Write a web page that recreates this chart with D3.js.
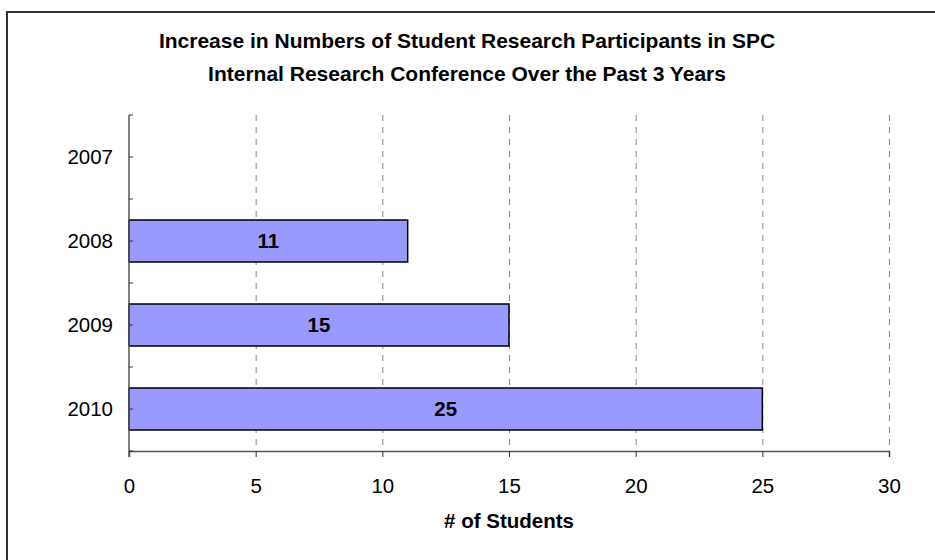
<!DOCTYPE html>
<html>
<head>
<meta charset="utf-8">
<script src="https://cdn.jsdelivr.net/npm/d3@7"></script>
<style>
  body { margin: 0; background: #fff; }
  text { font-family: "Liberation Sans", Arial, sans-serif; fill: #000; }
</style>
</head>
<body>
<svg width="935" height="560"></svg>
<script>
var years = ["2007", "2008", "2009", "2010"];
var students = [null, 11, 15, 25];
var xTicks = [0, 5, 10, 15, 20, 25, 30];
var titleLines = ["Increase in Numbers of Student Research Participants in SPC",
                  "Internal Research Conference Over the Past 3 Years"];

var svg = d3.select("svg");

// outer frame, cut off at right and bottom like the original
svg.append("rect")
    .attr("x", 7).attr("y", 12)
    .attr("width", 960).attr("height", 600)
    .attr("fill", "none")
    .attr("stroke", "#333")
    .attr("stroke-width", 2);

var x = d3.scaleLinear().domain([0, 30]).range([129, 889]);
var y = d3.scaleBand().domain(years).range([115, 451])
    .paddingInner(0.5).paddingOuter(0.25);

// dashed grid
svg.selectAll(".grid")
    .data(xTicks.slice(1))
    .enter().append("line")
    .attr("class", "grid")
    .attr("x1", function (d) {return x(d) + 0.5;})
    .attr("x2", function (d) {return x(d) + 0.5;})
    .attr("y1", 115).attr("y2", 451)
    .attr("stroke", "#888")
    .attr("stroke-dasharray", "6,6");

var data = years.map(function (d, i) {return {year: d, v: students[i]};})
    .filter(function (d) {return d.v != null;});

svg.selectAll(".bar")
    .data(data)
    .enter().append("rect")
    .attr("class", "bar")
    .attr("x", x(0))
    .attr("y", function (d) {return y(d.year);})
    .attr("width", function (d) {return x(d.v) - x(0);})
    .attr("height", y.bandwidth())
    .attr("fill", "#9999ff")
    .attr("stroke", "#000")
    .attr("stroke-width", 1.5);

svg.selectAll(".lbl")
    .data(data)
    .enter().append("text")
    .attr("class", "lbl")
    .attr("x", function (d) {return (x(0) + x(d.v)) / 2;})
    .attr("y", function (d) {return y(d.year) + y.bandwidth() / 2;})
    .attr("dy", "0.35em")
    .attr("text-anchor", "middle")
    .attr("font-size", 20.5)
    .attr("font-weight", "bold")
    .text(function (d) {return d.v;});

// x axis
var xAxis = svg.append("g")
    .attr("transform", "translate(0,451)")
    .call(d3.axisBottom(x).tickValues(xTicks).tickSize(6).tickPadding(21));
xAxis.select(".domain").attr("stroke", "#555").attr("stroke-width", 1.5);
xAxis.selectAll(".tick line").attr("stroke", "#333");
xAxis.selectAll("text").attr("font-size", 20.5).attr("font-family", "Liberation Sans, Arial, sans-serif");

// y axis: ticks on band edges and centres, pointing inward
var yAxis = svg.append("g").attr("transform", "translate(129,0)");
yAxis.append("line")
    .attr("y1", 115).attr("y2", 457)
    .attr("stroke", "#555").attr("stroke-width", 1.5);
var edges = [];
years.forEach(function (d) {
    edges.push(y(d) - y.step() * 0.25);
    edges.push(y(d) + y.bandwidth() / 2);
});
edges.push(451);
yAxis.selectAll(".ytick")
    .data(edges)
    .enter().append("line")
    .attr("x1", 0).attr("x2", 4)
    .attr("y1", function (d) {return d;})
    .attr("y2", function (d) {return d;})
    .attr("stroke", "#333");
yAxis.selectAll(".ylbl")
    .data(years)
    .enter().append("text")
    .attr("x", -16)
    .attr("y", function (d) {return y(d) + y.bandwidth() / 2;})
    .attr("dy", "0.35em")
    .attr("text-anchor", "end")
    .attr("font-size", 20.5)
    .text(function (d) {return d;});

// titles
svg.selectAll(".title")
    .data(titleLines)
    .enter().append("text")
    .attr("x", 467)
    .attr("y", function (d, i) {return 48 + i * 33;})
    .attr("text-anchor", "middle")
    .attr("font-size", 21)
    .attr("font-weight", "bold")
    .text(function (d) {return d;});

svg.append("text")
    .attr("x", 509).attr("y", 528)
    .attr("text-anchor", "middle")
    .attr("font-size", 20.5)
    .attr("font-weight", "bold")
    .text("# of Students");
</script>
</body>
</html>
